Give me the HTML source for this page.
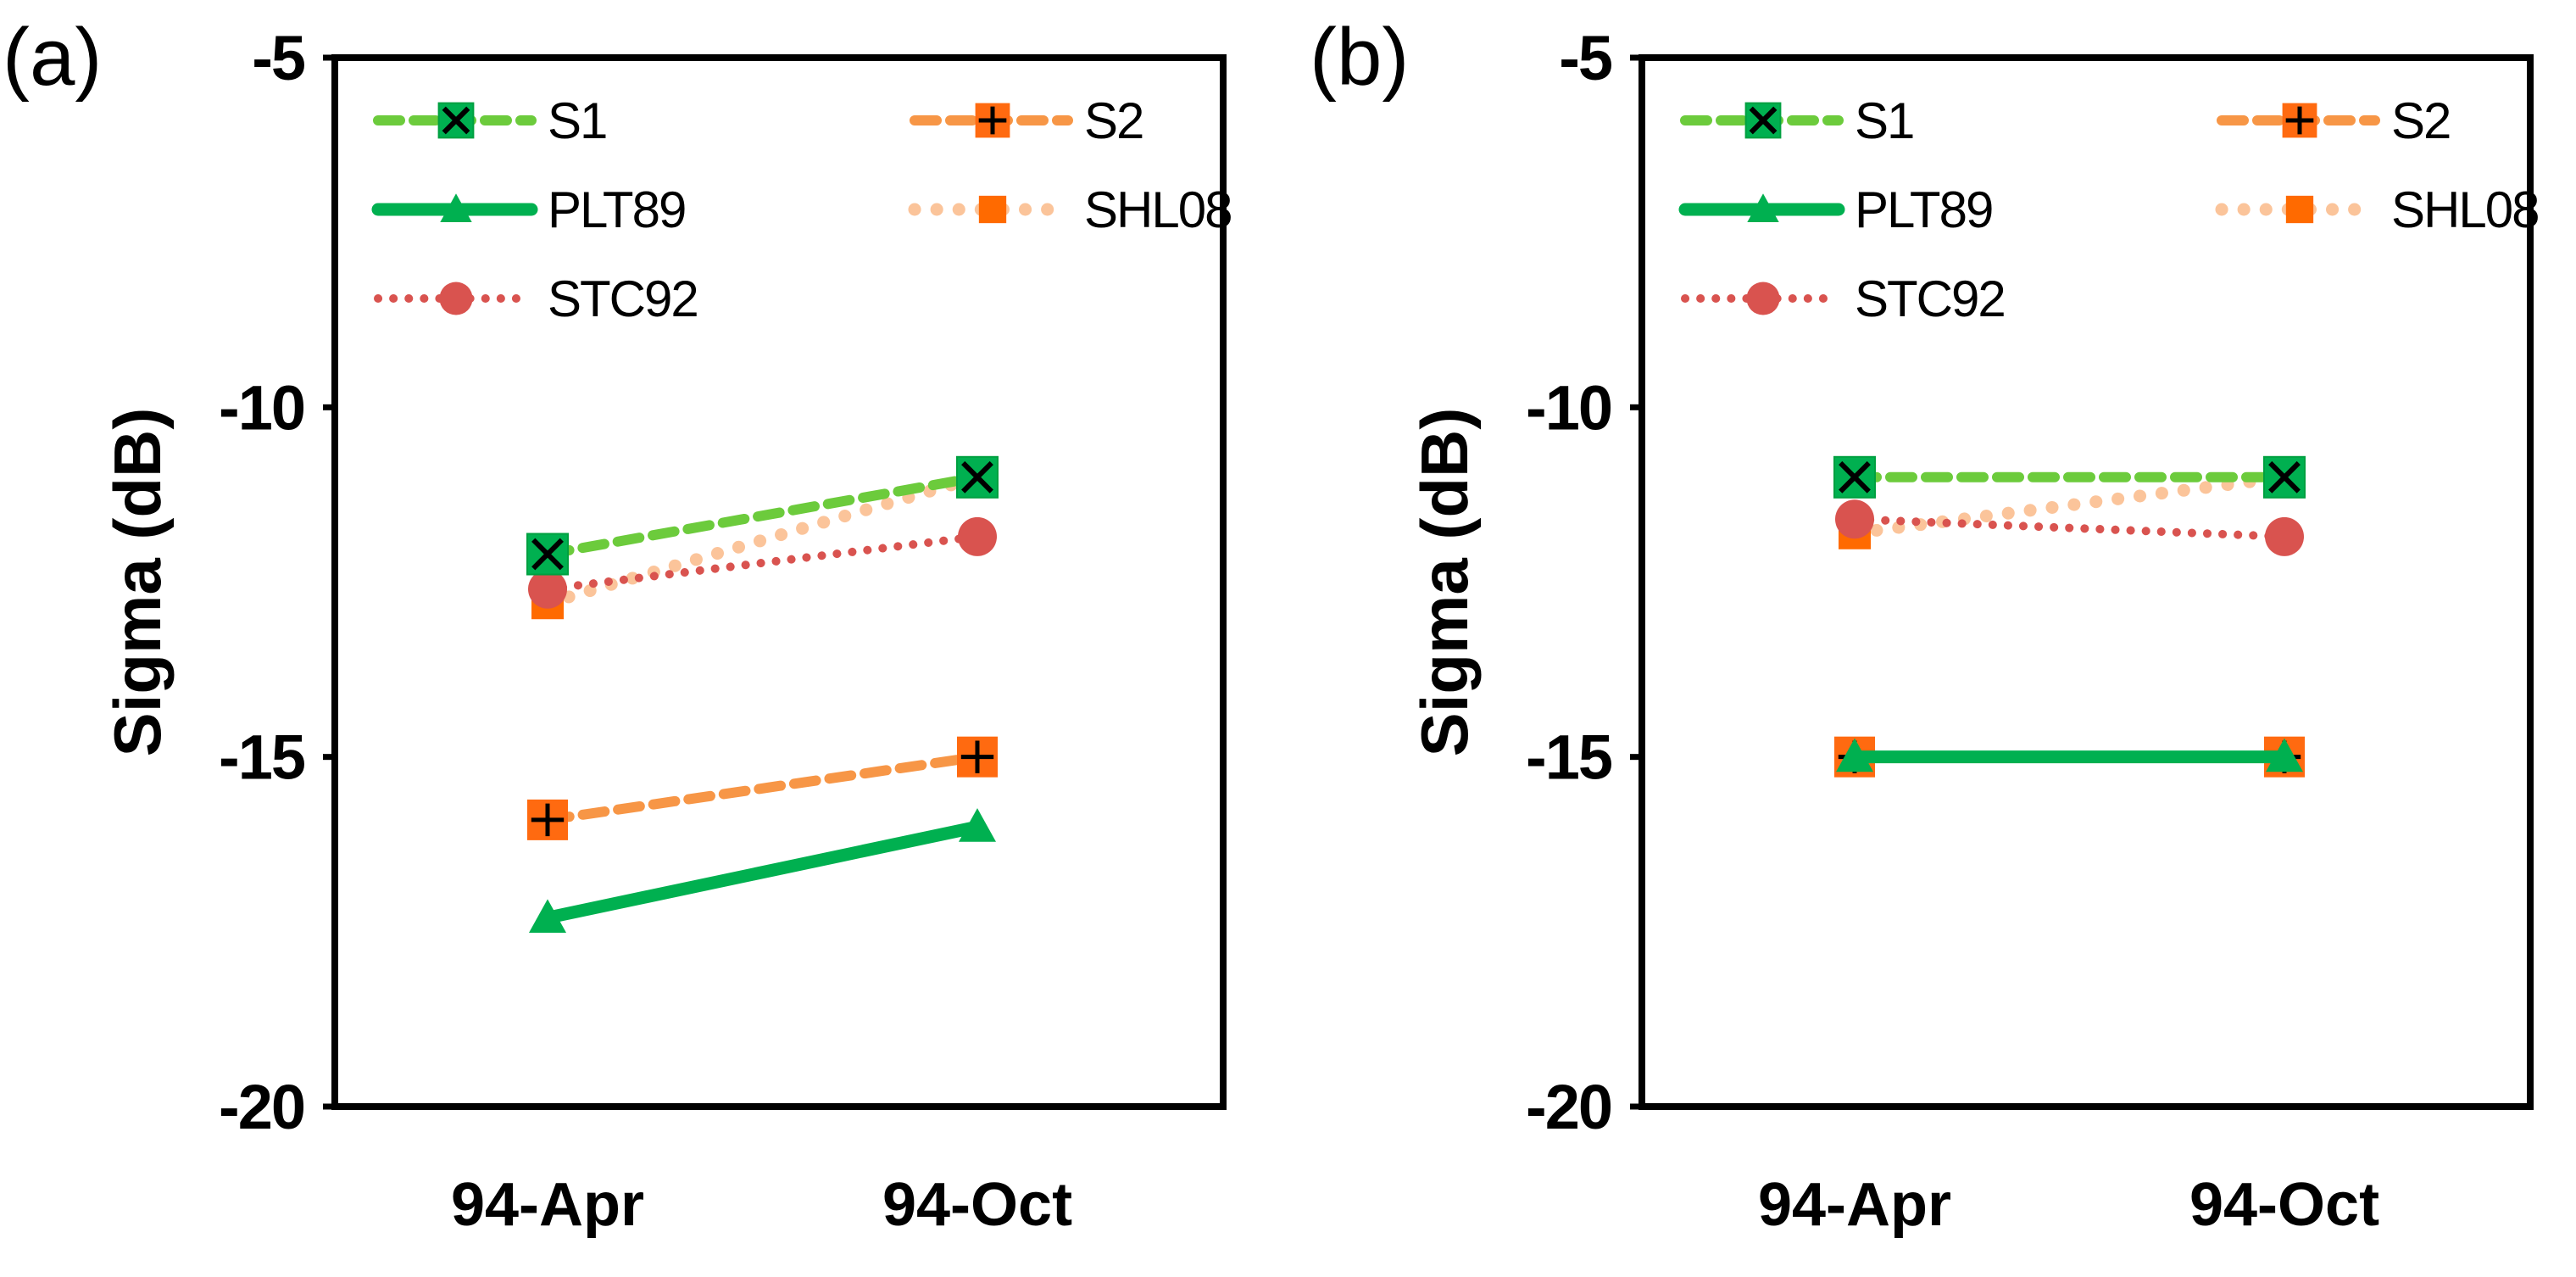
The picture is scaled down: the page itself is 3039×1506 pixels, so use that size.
<!DOCTYPE html>
<html><head><meta charset="utf-8"><style>
html,body{margin:0;padding:0;background:#fff}
svg{display:block}
text{font-family:"Liberation Sans",Arial,sans-serif}
</style></head><body>
<svg id="chart" width="3039" height="1506" viewBox="0 0 3039 1506"></svg>
<script>
const categories = ["94-Apr","94-Oct"];
const yTicks = [-5,-10,-15,-20];
const seriesNames = ["S1","S2","PLT89","SHL08","STC92"];
const aS1 = [-12.1,-11.0];
const aS2 = [-15.9,-15.0];
const aPLT89 = [-17.3,-16.0];
const aSHL08 = [-12.8,-11.0];
const aSTC92 = [-12.6,-11.85];
const bS1 = [-11.0,-11.0];
const bS2 = [-15.0,-15.0];
const bPLT89 = [-15.0,-15.0];
const bSHL08 = [-11.8,-11.0];
const bSTC92 = [-11.6,-11.85];

const NS="http://www.w3.org/2000/svg";
const svg=document.getElementById('chart');
function el(tag,attrs,parent,txt){const e=document.createElementNS(NS,tag);for(const k in attrs)e.setAttribute(k,attrs[k]);if(txt!==undefined)e.textContent=txt;(parent||svg).appendChild(e);return e;}
const styles={
 S1:{stroke:"#6ccb3c",w:12,dash:"26 16",cap:"round"},
 S2:{stroke:"#f79646",w:12,dash:"26 16",cap:"round"},
 PLT89:{stroke:"#00b050",w:15,dash:"",cap:"round"},
 SHL08:{stroke:"#fbc49a",w:15,dash:"0.1 26",cap:"round"},
 STC92:{stroke:"#d9534f",w:10,dash:"0.1 18",cap:"round"}
};
function marker(g,name,x,y,scale){
 const s=scale||1;
 if(name==="S1"){const h=24*s;
  el('rect',{x:x-h,y:y-h,width:2*h,height:2*h,fill:"#00b050",stroke:"#00a040","stroke-width":2},g);
  el('path',{d:`M${x-h*0.7} ${y-h*0.7}L${x+h*0.7} ${y+h*0.7}M${x+h*0.7} ${y-h*0.7}L${x-h*0.7} ${y+h*0.7}`,stroke:"#000","stroke-width":6},g);}
 else if(name==="S2"){const h=24*s;
  el('rect',{x:x-h,y:y-h,width:2*h,height:2*h,fill:"#ff6a10"},g);
  el('path',{d:`M${x-h*0.8} ${y}L${x+h*0.8} ${y}M${x} ${y-h*0.8}L${x} ${y+h*0.8}`,stroke:"#000","stroke-width":5},g);}
 else if(name==="PLT89"){const h=22*s;
  el('path',{d:`M${x} ${y-h}L${x+h} ${y+h*0.8}L${x-h} ${y+h*0.8}Z`,fill:"#00b050"},g);}
 else if(name==="SHL08"){const h=19*s;
  el('rect',{x:x-h,y:y-h,width:2*h,height:2*h,fill:"#ff6a00"},g);}
 else if(name==="STC92"){el('circle',{cx:x,cy:y,r:23*s,fill:"#d9534f"},g);}
}
function panel(id,left,label,data){
 const right=left+1048, top=68, bottom=1305;
 const g=el('g',{});
 
 
 const yS=v=>top+(v-(-5))/(-15)*(bottom-top);
 const xPos=[left+251,left+758];
 const xS=i=>xPos[i];
 const lab=el('text',{x:left-392,y:100,"font-size":96},g,label);
 
 
 const fr=el('rect',{x:left,y:top,width:right-left,height:bottom-top,fill:"none",stroke:"#000","stroke-width":8},g);
 
 
 yTicks.forEach(t=>{
  const y=yS(t);
  el('line',{x1:left-14,x2:left,y1:y,y2:y,stroke:"#000","stroke-width":7},g);
  const tx=el('text',{x:left-36,y:y+26,"font-size":74,"font-weight":"bold","text-anchor":"end","letter-spacing":"-2"},g,String(t));
  
  
 });
 categories.forEach((c,i)=>{
  const tx=el('text',{x:xS(i),y:1445,"font-size":72,"font-weight":"bold","text-anchor":"middle"},g,c);
  
  
 });
 const yt=el('text',{x:0,y:0,"font-size":78,"font-weight":"bold","text-anchor":"middle",transform:`translate(${left-206},${(top+bottom)/2}) rotate(-90)`},g,"Sigma (dB)");
 
 
 const order=["SHL08","STC92","S2","PLT89","S1"];
 order.forEach(n=>{
  const st=styles[n]; const vals=data[n];
  const sg=el('g',{},g);
  
  
  const pts=vals.map((v,i)=>xS(i)+","+yS(v)).join(" ");
  el('polyline',{points:pts,fill:"none",stroke:st.stroke,"stroke-width":st.w,"stroke-dasharray":st.dash,"stroke-linecap":st.cap},sg);
  vals.forEach((v,i)=>marker(sg,n,xS(i),yS(v)));
 });
 const lg=el('g',{},g);
 
 
 const pos={S1:[0,0],S2:[1,0],PLT89:[0,1],SHL08:[1,1],STC92:[0,2]};
 seriesNames.forEach(n=>{
  const [c,r]=pos[n]; const st=styles[n];
  const x0=left+(c?684:51), y=142+r*105;
  const e=el('g',{},lg);
  
  
  el('line',{x1:x0,x2:x0+181,y1:y,y2:y,stroke:st.stroke,"stroke-width":st.w,"stroke-dasharray":st.dash,"stroke-linecap":st.cap},e);
  marker(e,n,x0+92,y,0.85);
  el('text',{x:x0+200,y:y+21,"font-size":60,"letter-spacing":"-2"},e,n);
 });
}
panel('a',395,"(a)",{S1:aS1,S2:aS2,PLT89:aPLT89,SHL08:aSHL08,STC92:aSTC92});
panel('b',1937,"(b)",{S1:bS1,S2:bS2,PLT89:bPLT89,SHL08:bSHL08,STC92:bSTC92});
</script>
</body></html>
